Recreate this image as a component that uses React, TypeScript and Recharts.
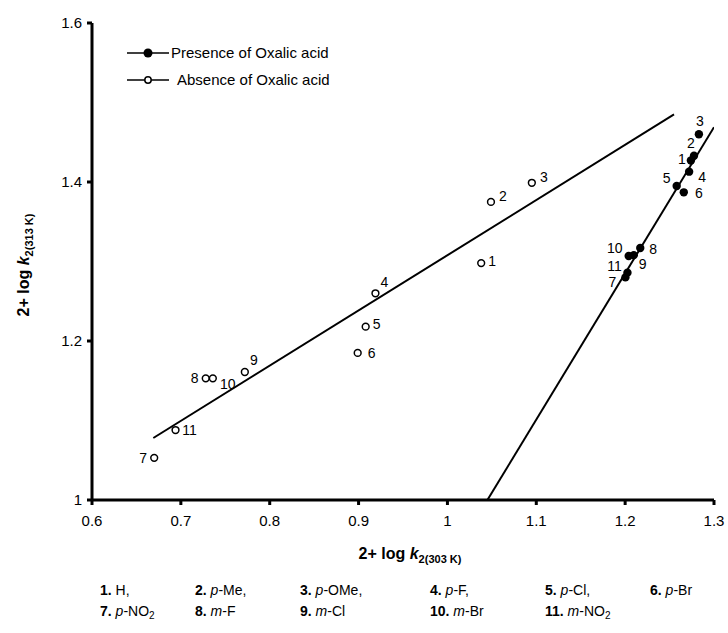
import React from "react";
import { ScatterChart, Scatter, XAxis, YAxis } from "recharts";

// substituent numbers and names
const compoundNo = [1, 2, 3, 4, 5, 6, 7, 8, 9, 10, 11];
const substPrefix = ["", "p", "p", "p", "p", "p", "p", "m", "m", "m", "m"];
const substGroup = ["H", "Me", "OMe", "F", "Cl", "Br", "NO2", "F", "Cl", "Br", "NO2"];

// Absence of oxalic acid (open circles)
const absenceX = [1.038, 1.049, 1.095, 0.919, 0.908, 0.899, 0.67, 0.728, 0.772, 0.736, 0.694];
const absenceY = [1.298, 1.375, 1.399, 1.26, 1.218, 1.185, 1.053, 1.153, 1.161, 1.153, 1.088];

// Presence of oxalic acid (filled circles)
const presenceX = [1.274, 1.2775, 1.283, 1.272, 1.258, 1.266, 1.2003, 1.217, 1.2097, 1.204, 1.2026];
const presenceY = [1.427, 1.433, 1.46, 1.413, 1.395, 1.387, 1.28, 1.317, 1.308, 1.307, 1.286];

// fitted lines (end points)
const absenceFitX = [0.669, 1.255];
const absenceFitY = [1.078, 1.485];
const presenceFitX = [1.045, 1.3];
const presenceFitY = [1.0, 1.469];

const xTicks = [0.6, 0.7, 0.8, 0.9, 1, 1.1, 1.2, 1.3];
const yTicks = [1, 1.2, 1.4, 1.6];

const absence = compoundNo.map((id, i) => ({ id, x: absenceX[i], y: absenceY[i] }));
const presence = compoundNo.map((id, i) => ({ id, x: presenceX[i], y: presenceY[i] }));
const absenceFit = absenceFitX.map((x, i) => ({ x, y: absenceFitY[i] }));
const presenceFit = presenceFitX.map((x, i) => ({ x, y: presenceFitY[i] }));

// label offsets around each point (layout only)
const openLabelOffset: Record<number, [number, number]> = {
  1: [11, -2], 2: [12, -6], 3: [12, -6], 4: [9, -11], 5: [11, -3], 6: [14, 0],
  7: [-11, 0], 8: [-11, 0], 9: [9, -12], 10: [15, 6], 11: [14, 0],
};
const filledLabelOffset: Record<number, [number, number]> = {
  1: [-9, -2], 2: [-3, -13], 3: [1, -13], 4: [13, 5], 5: [-10, -8], 6: [15, 1],
  7: [-13, 5], 8: [13, 1], 9: [9, 9], 10: [-14, -8], 11: [-13, -7],
};

const FONT = "'Liberation Sans', Arial, sans-serif";

const OpenPoint = (props: any) => {
  const { cx, cy, payload } = props;
  const [dx, dy] = openLabelOffset[payload.id] || [10, 0];
  return (
    <g>
      <circle cx={cx} cy={cy} r={3.4} fill="#fff" stroke="#000" strokeWidth={1.5} />
      <text x={cx + dx} y={cy + dy} textAnchor="middle" dominantBaseline="central" fontSize={14} fontFamily={FONT} fill="#000">
        {payload.id}
      </text>
    </g>
  );
};

const FilledPoint = (props: any) => {
  const { cx, cy, payload } = props;
  const [dx, dy] = filledLabelOffset[payload.id] || [10, 0];
  return (
    <g>
      <circle cx={cx} cy={cy} r={4.2} fill="#000" />
      <text x={cx + dx} y={cy + dy} textAnchor="middle" dominantBaseline="central" fontSize={14} fontFamily={FONT} fill="#000">
        {payload.id}
      </text>
    </g>
  );
};

const noShape = () => <g />;

function Group({ g }: { g: string }) {
  if (g === "NO2") {
    return (
      <span>
        NO<sub style={{ fontSize: 10, verticalAlign: "-3px", lineHeight: 0 }}>2</sub>
      </span>
    );
  }
  return <span>{g}</span>;
}

const colX = [100, 195, 300, 430, 545, 650];

export default function App() {
  return (
    <div style={{ position: "absolute", left: 0, top: 0, width: 728, height: 633, background: "#fff", fontFamily: FONT, color: "#000" }}>
      <ScatterChart width={728} height={633} margin={{ top: 23, right: 14, left: 0, bottom: 93 }}>
        <XAxis
          type="number"
          dataKey="x"
          domain={[0.6, 1.3]}
          ticks={xTicks}
          height={40}
          axisLine={{ stroke: "#000", strokeWidth: 3 }}
          tickLine={{ stroke: "#000", strokeWidth: 3 }}
          tickSize={5}
          tickMargin={10}
          tick={{ fill: "#000", fontSize: 15, fontFamily: FONT }}
          allowDataOverflow
        />
        <YAxis
          type="number"
          dataKey="y"
          domain={[1, 1.6]}
          ticks={yTicks}
          width={92}
          axisLine={{ stroke: "#000", strokeWidth: 3 }}
          tickLine={{ stroke: "#000", strokeWidth: 3 }}
          tickSize={5}
          tickMargin={5}
          tick={{ fill: "#000", fontSize: 15, fontFamily: FONT }}
          allowDataOverflow
        />
        <Scatter data={absenceFit} line={{ stroke: "#000", strokeWidth: 2 }} shape={noShape} isAnimationActive={false} />
        <Scatter data={presenceFit} line={{ stroke: "#000", strokeWidth: 2 }} shape={noShape} isAnimationActive={false} />
        <Scatter data={absence} shape={OpenPoint} isAnimationActive={false} />
        <Scatter data={presence} shape={FilledPoint} isAnimationActive={false} />
      </ScatterChart>

      {/* top-left legend */}
      <svg style={{ position: "absolute", left: 120, top: 40 }} width={60} height={50}>
        <line x1={7} y1={13} x2={49} y2={13} stroke="#000" strokeWidth={1.5} />
        <circle cx={28} cy={13} r={4.5} fill="#000" />
        <line x1={7} y1={40} x2={49} y2={40} stroke="#000" strokeWidth={1.5} />
        <circle cx={28} cy={40} r={3.2} fill="#fff" stroke="#000" strokeWidth={1.5} />
      </svg>
      <div style={{ position: "absolute", left: 171, top: 43, fontSize: 15, lineHeight: "20px" }}>Presence of Oxalic acid</div>
      <div style={{ position: "absolute", left: 177, top: 70, fontSize: 15, lineHeight: "20px" }}>Absence of Oxalic acid</div>

      {/* axis titles */}
      <div style={{ position: "absolute", left: 0, top: 545, width: 820, textAlign: "center", fontSize: 16, fontWeight: "bold", whiteSpace: "nowrap" }}>
        2+ log <i>k</i>
        <sub style={{ fontSize: 11, verticalAlign: "-4px" }}>2(303 K)</sub>
      </div>
      <div
        style={{
          position: "absolute",
          left: 25,
          top: 265,
          transform: "translate(-50%, -50%) rotate(-90deg)",
          fontSize: 16,
          fontWeight: "bold",
          whiteSpace: "nowrap",
        }}
      >
        2+ log <i>k</i>
        <sub style={{ fontSize: 11, verticalAlign: "-4px" }}>2(313 K)</sub>
      </div>

      {/* compound key */}
      {compoundNo.map((n, i) => {
        const row = i < 6 ? 0 : 1;
        const col = row === 0 ? i : i - 6;
        return (
          <div
            key={n}
            style={{ position: "absolute", left: colX[col], top: 581 + row * 21, fontSize: 14, lineHeight: "18px", whiteSpace: "nowrap" }}
          >
            <b>{n}.</b> {substPrefix[i] && <i>{substPrefix[i]}</i>}
            {substPrefix[i] && "-"}
            <Group g={substGroup[i]} />
            {i < 5 ? "," : ""}
          </div>
        );
      })}
    </div>
  );
}
